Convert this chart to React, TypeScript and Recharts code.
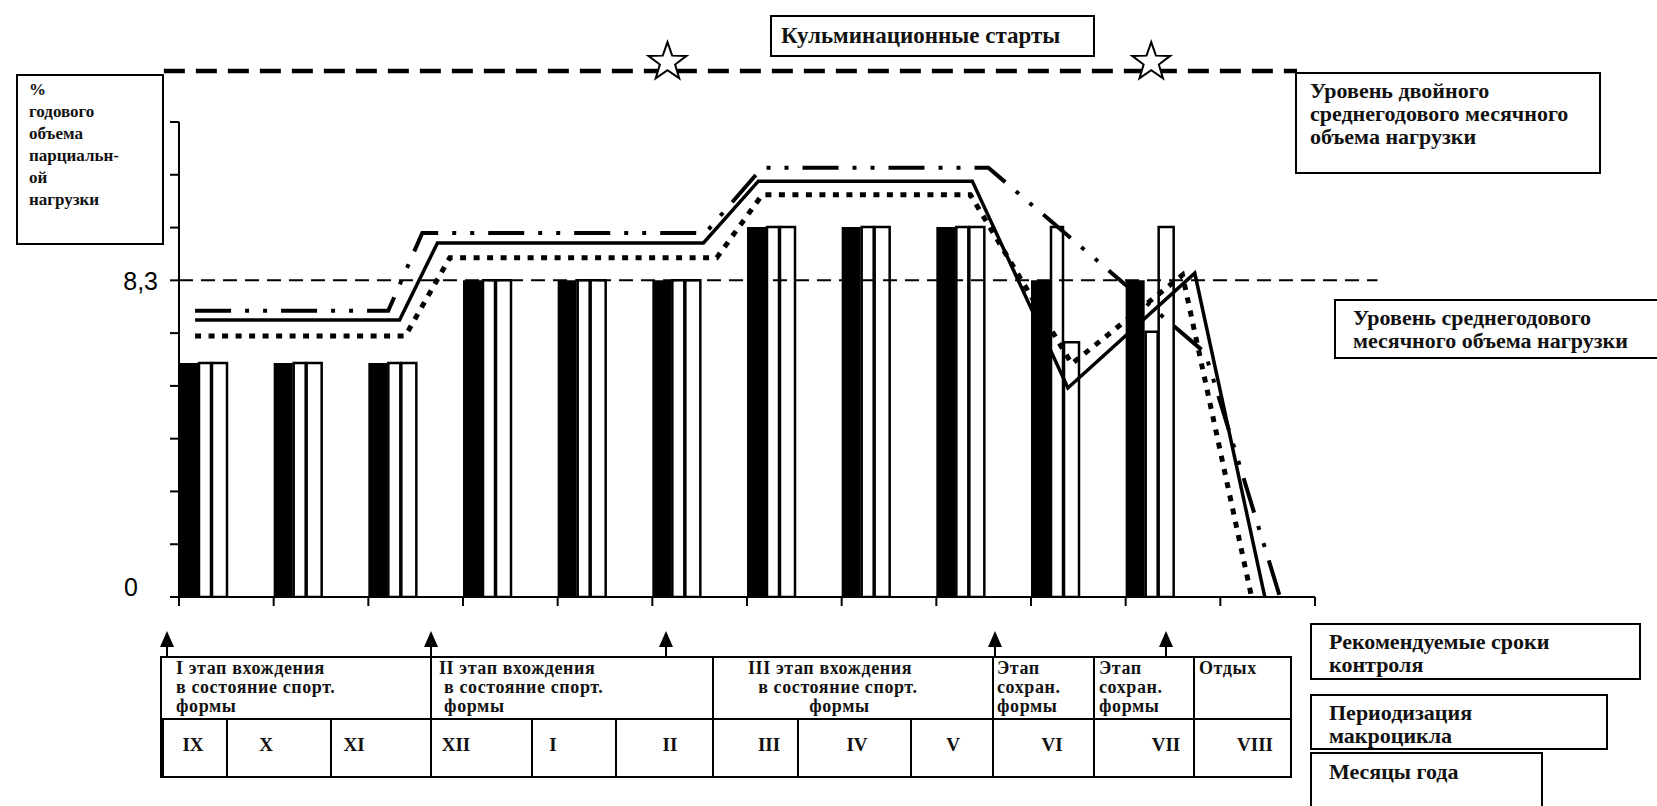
import { Bar, ComposedChart, Line, ReferenceDot, ReferenceLine, XAxis, YAxis } from "recharts";

// months of the macrocycle, Sept -> Aug
const months = ["IX", "X", "XI", "XII", "I", "II", "III", "IV", "V", "VI", "VII", "VIII"];
// three bars per month, % of the yearly volume
const blackBar = [6.13, 6.13, 6.13, 8.3, 8.3, 8.3, 9.7, 9.7, 9.7, 8.3, 8.3, null];
const whiteBarA = [6.13, 6.13, 6.13, 8.3, 8.3, 8.3, 9.7, 9.7, 9.7, 9.7, 6.95, null];
const whiteBarB = [6.13, 6.13, 6.13, 8.3, 8.3, 8.3, 9.7, 9.7, 9.7, 6.68, 9.7, null];

const yTicks = [0, 1.383, 2.767, 4.15, 5.533, 6.917, 8.3, 9.683, 11.067, 12.45];
const xTicks = [0, 1, 2, 3, 4, 5, 6, 7, 8, 9, 10, 11, 12];
const AVG_LEVEL = 8.3;
const DOUBLE_LEVEL = 13.79; // drawn above the axis, not to scale in the original
const starX = [5.16, 10.27];
const STAR_Y = 14.02;

// line break points: x in month units counted from the start of IX, y in %
const dashDotX = [0.17, 2.21, 2.57, 5.56, 6.16, 8.55, 10.84, 11.63];
const dashDotY = [7.5, 7.5, 9.54, 9.54, 11.25, 11.25, 6.4, 0];
const solidX = [0.17, 2.33, 2.73, 5.54, 6.12, 8.38, 9.39, 10.73, 11.47];
const solidY = [7.26, 7.26, 9.28, 9.28, 10.9, 10.9, 5.48, 8.49, 0];
const dottedX = [0.17, 2.39, 2.86, 5.68, 6.16, 8.36, 9.43, 10.6, 11.33];
const dottedY = [6.84, 6.84, 8.89, 8.89, 10.54, 10.54, 6.11, 8.44, 0];

const yAxisTitle = ["%", "годового", "объема", "парциальн-", "ой", "нагрузки"];
const peakLabel = "Кульминационные старты";
const doubleLabel = ["Уровень двойного", "среднегодового месячного", "объема нагрузки"];
const avgLabel = ["Уровень среднегодового", "месячного объема нагрузки"];
const controlLabel = ["Рекомендуемые сроки", "контроля"];
const periodLabel = ["Периодизация", "макроцикла"];
const monthsLabel = ["Месяцы года"];
const stages = [
  ["I этап вхождения", "в состояние спорт.", "формы"],
  ["II этап вхождения", " в состояние спорт.", " формы"],
  ["III этап вхождения", "  в состояние спорт.", "            формы"],
  ["Этап", "сохран.", "формы"],
  ["Этап", "сохран.", "формы"],
  ["Отдых"],
];

const rows = months.map((m, i) => ({ m, black: blackBar[i], a: whiteBarA[i], b: whiteBarB[i], pad: 0 }));
const pts = (xs: number[], ys: number[]) => xs.map((x, i) => ({ x, y: ys[i] }));

const SERIF = '"Liberation Serif", "Times New Roman", serif';

function Star({ cx, cy }: any) {
  const p: string[] = [];
  for (let i = 0; i < 10; i++) {
    const r = i % 2 === 0 ? 20 : 8;
    const a = -Math.PI / 2 + (i * Math.PI) / 5;
    p.push(`${cx + r * Math.cos(a)},${cy + r * Math.sin(a)}`);
  }
  return <polygon points={p.join(" ")} fill="#fff" stroke="#000" strokeWidth={2} />;
}

function YTick({ x, y, payload }: any) {
  const v = payload.value;
  if (v === 0) return <text x={x - 30} y={y} dy={-1} textAnchor="end" fontSize={25} fontFamily="Liberation Sans, Arial" fill="#000">0</text>;
  if (v === AVG_LEVEL) return <text x={x - 10} y={y} dy={10} textAnchor="end" fontSize={25} fontFamily="Liberation Sans, Arial" fill="#000">8,3</text>;
  return <g />;
}

const NoTick = () => <g />;

function TextBlock({ lines, left, top, size = 22, lh = 23, ls = 0 }: { lines: string[]; left: number; top: number; size?: number; lh?: number; ls?: number }) {
  return (
    <div style={{ position: "absolute", left, top, fontFamily: SERIF, fontWeight: 700, fontSize: size, lineHeight: `${lh}px`, letterSpacing: ls, whiteSpace: "pre", color: "#111" }}>
      {lines.map((l, i) => <div key={i}>{l}</div>)}
    </div>
  );
}

function Box({ left, top, width, height }: { left: number; top: number; width: number; height: number }) {
  return <div style={{ position: "absolute", left, top, width, height, border: "2px solid #000", boxSizing: "border-box" }} />;
}

// table layout (page pixels)
const T_LEFT = 161, T_RIGHT = 1291, T_TOP = 657, T_MID = 719, T_BOT = 777;
const stageEdges = [431, 713, 993, 1094, 1194];
const monthEdges = [227, 331, 532, 616, 798, 911];
const stageText = [176, 439, 748, 997, 1099, 1199];
const monthCenters = [193, 266, 354, 456, 553, 670, 769, 857, 953, 1052, 1166, 1255];
const arrowsX = [167, 431, 666, 995, 1166];

export default function App() {
  return (
    <div style={{ position: "absolute", left: 0, top: 0, width: 1657, height: 806, background: "#fff", overflow: "hidden" }}>
      <ComposedChart width={1657} height={806} data={rows} margin={{ top: 122, right: 342, bottom: 179, left: 119 }} barGap={1} barCategoryGap={0}>
        <XAxis xAxisId="n" type="number" dataKey="x" domain={[0, 12]} ticks={xTicks} interval={0}
          tick={<NoTick />} tickSize={9} height={30} allowDataOverflow axisLine={{ stroke: "#000", strokeWidth: 2 }} tickLine={{ stroke: "#000", strokeWidth: 2 }} />
        <XAxis xAxisId="c" dataKey="m" hide height={0} />
        <YAxis domain={[0, 12.45]} ticks={yTicks} interval={0} tickSize={9} width={60} allowDataOverflow tick={<YTick />}
          axisLine={{ stroke: "#000", strokeWidth: 2 }} tickLine={{ stroke: "#000", strokeWidth: 2 }} />
        <ReferenceLine xAxisId="n" ifOverflow="visible" segment={[{ x: 0, y: AVG_LEVEL }, { x: 12.66, y: AVG_LEVEL }]} stroke="#000" strokeWidth={2} strokeDasharray="14 8" />
        <ReferenceLine xAxisId="n" ifOverflow="visible" segment={[{ x: -0.16, y: DOUBLE_LEVEL }, { x: 11.81, y: DOUBLE_LEVEL }]} stroke="#000" strokeWidth={4.5} strokeDasharray="21 11" />
        <Bar xAxisId="c" dataKey="black" barSize={19} fill="#000" isAnimationActive={false} />
        <Bar xAxisId="c" dataKey="a" barSize={12} fill="#fff" stroke="#000" strokeWidth={2.5} isAnimationActive={false} />
        <Bar xAxisId="c" dataKey="b" barSize={15} fill="#fff" stroke="#000" strokeWidth={2.5} isAnimationActive={false} />
        <Bar xAxisId="c" dataKey="pad" barSize={45} fill="none" isAnimationActive={false} />
        <Line xAxisId="n" data={pts(dashDotX, dashDotY)} dataKey="y" type="linear" stroke="#000" strokeWidth={4} strokeDasharray="36 14 4 14 4 14" dot={false} activeDot={false} isAnimationActive={false} />
        <Line xAxisId="n" data={pts(solidX, solidY)} dataKey="y" type="linear" stroke="#000" strokeWidth={3.5} dot={false} activeDot={false} isAnimationActive={false} />
        <Line xAxisId="n" data={pts(dottedX, dottedY)} dataKey="y" type="linear" stroke="#000" strokeWidth={5} strokeDasharray="6 7.5" dot={false} activeDot={false} isAnimationActive={false} />
        {starX.map((x) => (
          <ReferenceDot key={x} xAxisId="n" x={x} y={STAR_Y} ifOverflow="visible" shape={(p: any) => <Star cx={p.cx} cy={p.cy} />} />
        ))}
      </ComposedChart>

      <svg width={1657} height={806} style={{ position: "absolute", left: 0, top: 0, pointerEvents: "none" }}>
        <rect x={T_LEFT} y={T_TOP} width={T_RIGHT - T_LEFT} height={T_BOT - T_TOP} fill="none" stroke="#000" strokeWidth={2} />
        <line x1={T_LEFT} x2={T_RIGHT} y1={T_MID} y2={T_MID} stroke="#000" strokeWidth={2} />
        <line x1={T_LEFT + 1} x2={T_LEFT + 1} y1={T_MID} y2={T_BOT} stroke="#000" strokeWidth={4} />
        {stageEdges.map((x) => <line key={x} x1={x} x2={x} y1={T_TOP} y2={T_BOT} stroke="#000" strokeWidth={2} />)}
        {monthEdges.map((x) => <line key={x} x1={x} x2={x} y1={T_MID} y2={T_BOT} stroke="#000" strokeWidth={2} />)}
        {arrowsX.map((x) => (
          <g key={x}>
            <line x1={x} x2={x} y1={645} y2={T_TOP} stroke="#000" strokeWidth={2} />
            <polygon points={`${x - 7},${647} ${x + 7},${647} ${x},${631}`} fill="#000" />
          </g>
        ))}
      </svg>

      <Box left={16} top={74} width={148} height={171} />
      <TextBlock lines={yAxisTitle} left={29} top={79} size={17} lh={22} />

      <Box left={770} top={15} width={325} height={42} />
      <TextBlock lines={[peakLabel]} left={781} top={24} size={23} />

      <Box left={1295} top={72} width={306} height={102} />
      <TextBlock lines={doubleLabel} left={1310} top={79} />

      <Box left={1334} top={299} width={330} height={60} />
      <TextBlock lines={avgLabel} left={1353} top={306} />

      <Box left={1310} top={623} width={331} height={57} />
      <TextBlock lines={controlLabel} left={1329} top={630} />
      <Box left={1310} top={694} width={298} height={56} />
      <TextBlock lines={periodLabel} left={1329} top={701} />
      <Box left={1310} top={752} width={233} height={70} />
      <TextBlock lines={monthsLabel} left={1329} top={760} />

      {stages.map((s, i) => (
        <TextBlock key={i} lines={s} left={stageText[i]} top={659} size={18} lh={19} ls={0.6} />
      ))}
      {months.map((m, i) => (
        <div key={m} style={{ position: "absolute", left: monthCenters[i] - 40, width: 80, top: 733, textAlign: "center", fontFamily: SERIF, fontWeight: 700, fontSize: 19, lineHeight: "24px", color: "#111" }}>{m}</div>
      ))}
    </div>
  );
}
